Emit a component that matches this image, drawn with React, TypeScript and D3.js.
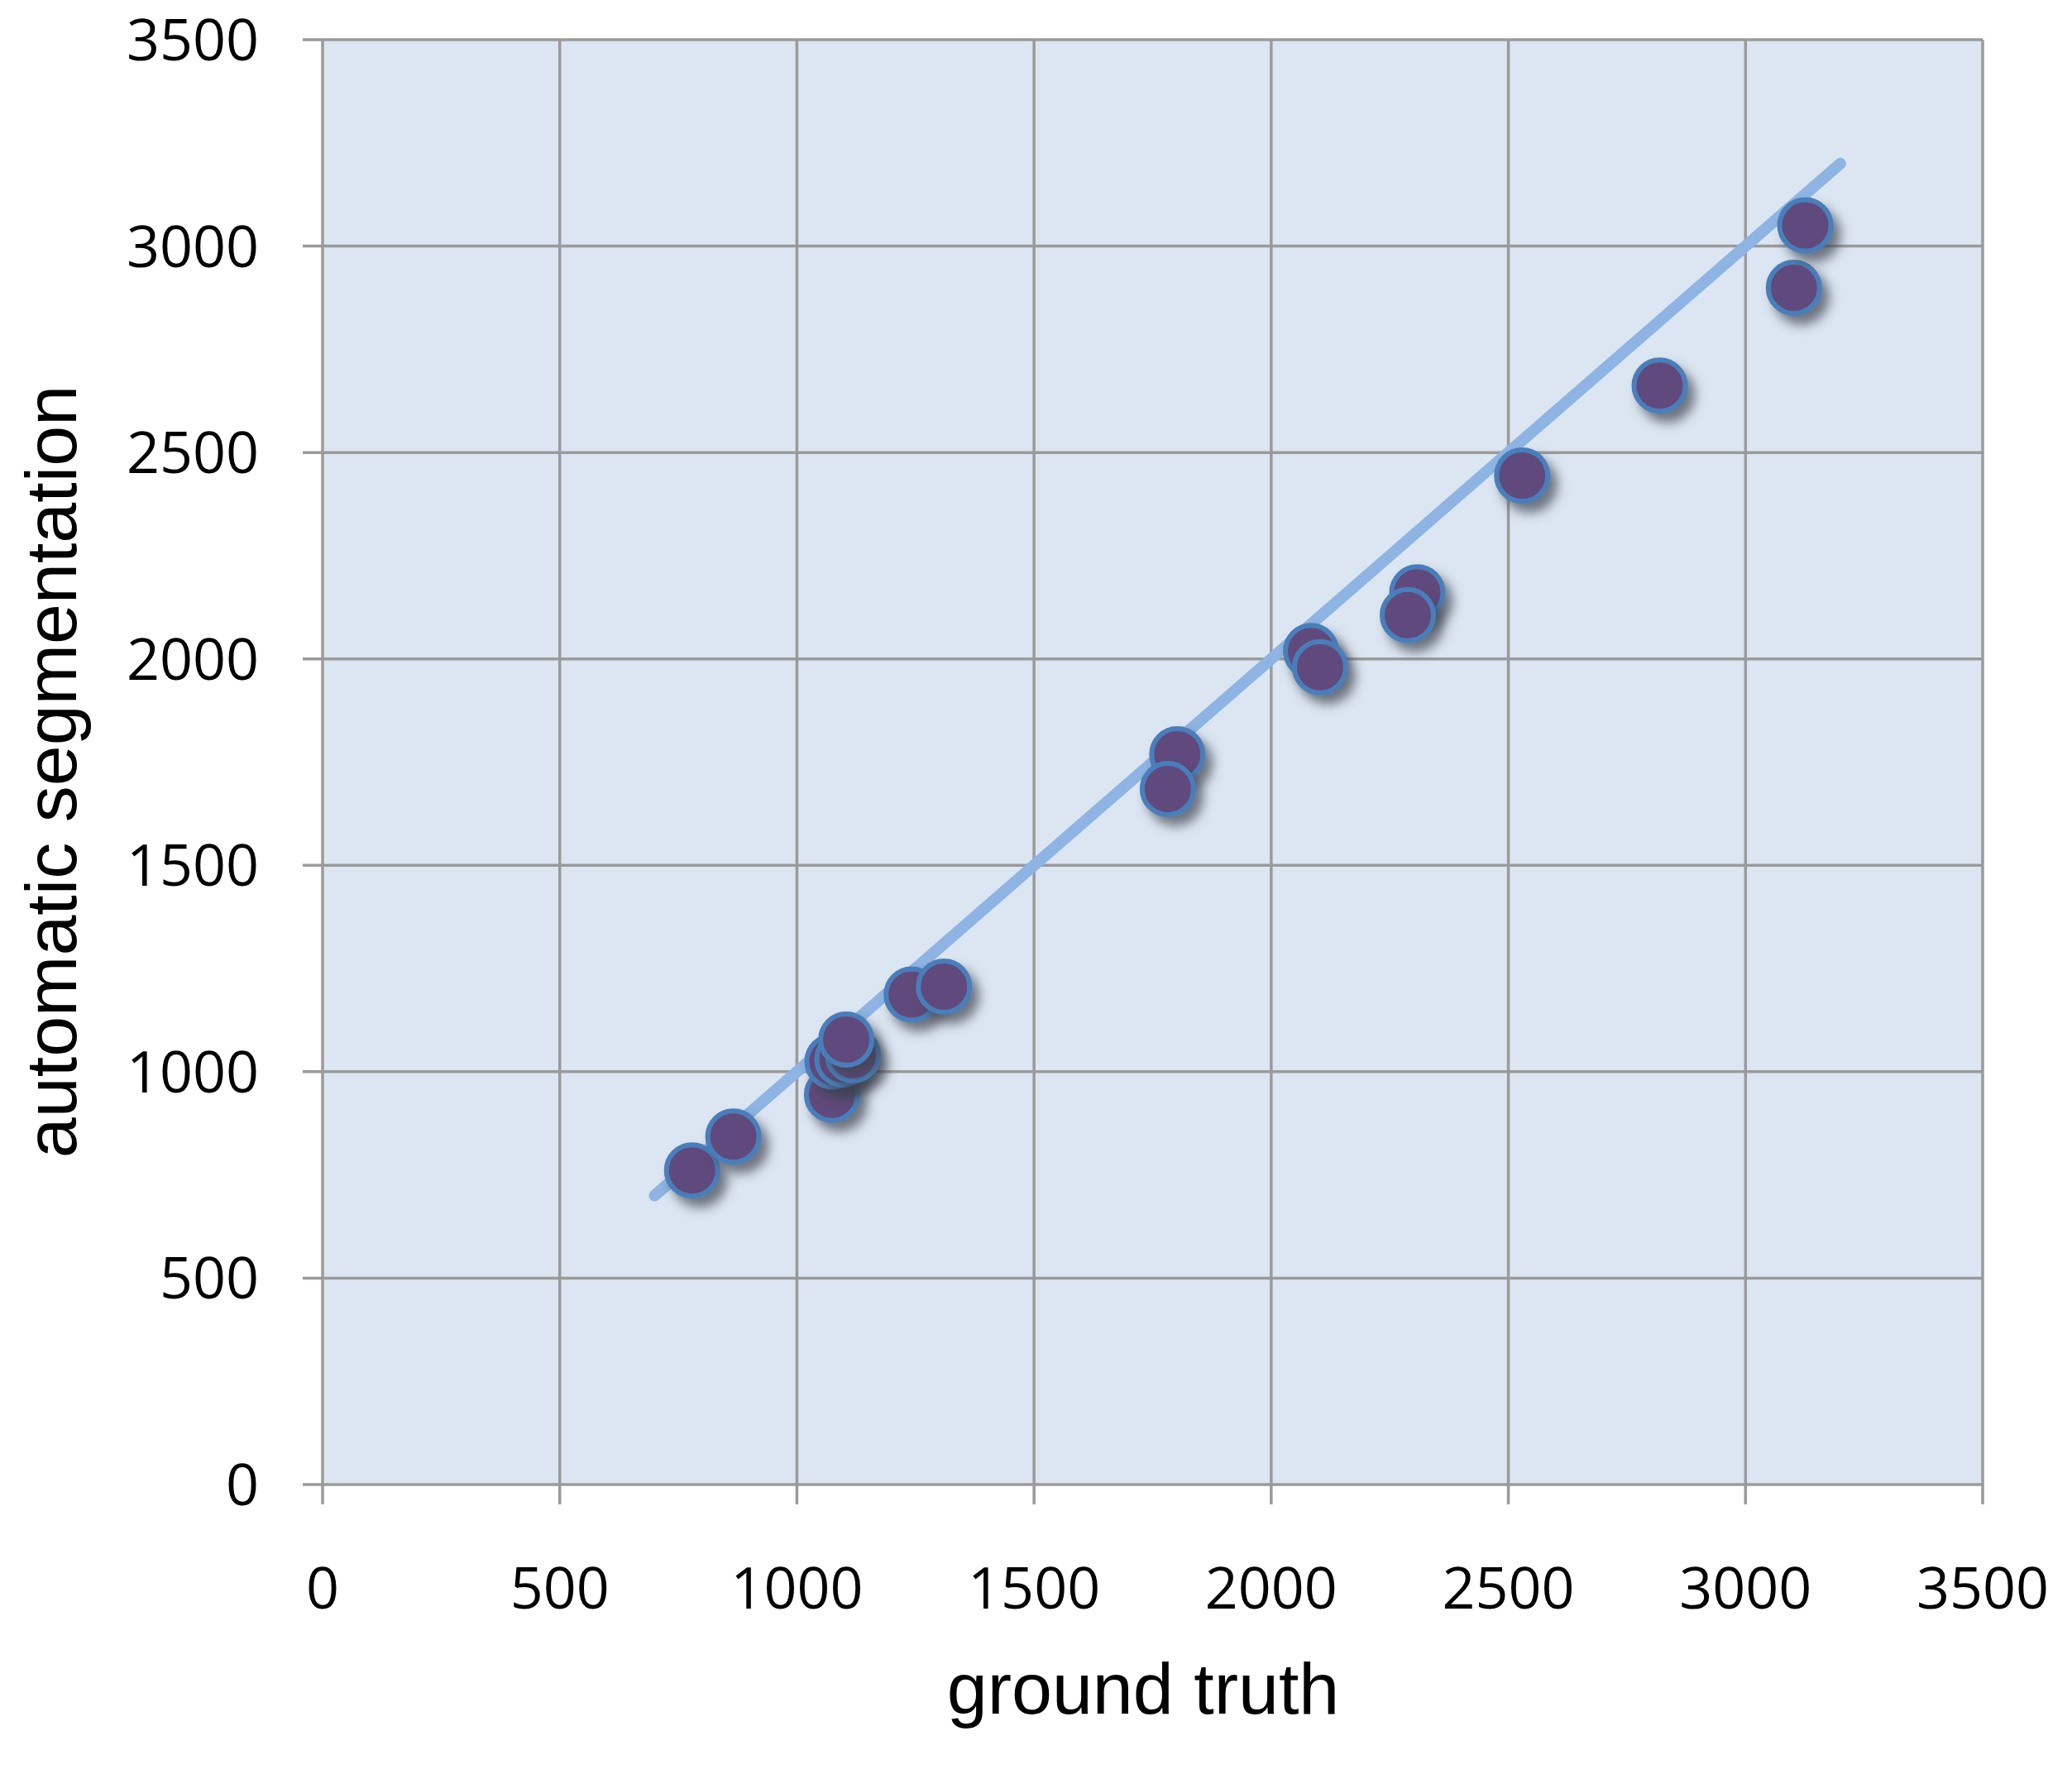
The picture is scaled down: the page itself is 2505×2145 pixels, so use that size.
import React from "react";
import * as d3 from "d3";

const groundTruth = [779, 866, 1074, 1075, 1096, 1118, 1104, 1242, 1310, 1802, 1782, 2084, 2103, 2308, 2288, 2529, 2819, 3102, 3126];
const automaticSeg = [761, 843, 944, 1025, 1030, 1040, 1078, 1187, 1206, 1769, 1685, 2019, 1980, 2161, 2106, 2444, 2662, 2899, 3050];
const fitLineX = [700, 3200];
const fitLineY = [700, 3200];
const xTicks = [0, 500, 1000, 1500, 2000, 2500, 3000, 3500];
const yTicks = [0, 500, 1000, 1500, 2000, 2500, 3000, 3500];
const xTitle = "ground truth";
const yTitle = "automatic segmentation";

const W = 2505;
const H = 2145;
const L = 390, R = 2397, T = 48, B = 1795;

export default function App() {
  const x = d3.scaleLinear().domain([0, 3500]).range([L, R]);
  const y = d3.scaleLinear().domain([0, 3500]).range([B, T]);
  const line = d3.line<number>().x((d) => x(fitLineX[d])).y((d) => y(fitLineY[d]));
  const grid = "#9a9a9a";
  const tickFont = "'Open Sans', 'Noto Sans', sans-serif";
  const titleFont = "'Liberation Sans', Arial, sans-serif";
  return (
    <svg width={W} height={H} style={{ position: "absolute", left: 0, top: 0, background: "#fff" }}>
      <defs>
        <filter id="sh" x="-50%" y="-50%" width="200%" height="200%">
          <feDropShadow dx="9" dy="11" stdDeviation="7" floodColor="#3a4350" floodOpacity="0.7" />
        </filter>
      </defs>
      <rect x={L} y={T} width={R - L} height={B - T} fill="#dce6f2" />
      {xTicks.map((t) => (
        <line key={"gx" + t} x1={x(t)} x2={x(t)} y1={T} y2={B + 24} stroke={grid} strokeWidth={3.5} />
      ))}
      {yTicks.map((t) => (
        <line key={"gy" + t} x1={L - 24} x2={R} y1={y(t)} y2={y(t)} stroke={grid} strokeWidth={3.5} />
      ))}
      {xTicks.map((t) => (
        <text key={"xl" + t} x={x(t)} y={1945} textAnchor="middle" fontFamily={tickFont} fontSize={70} fill="#000">
          {t}
        </text>
      ))}
      {yTicks.map((t) => (
        <text key={"yl" + t} x={313} y={y(t) + 25} textAnchor="end" fontFamily={tickFont} fontSize={70} fill="#000">
          {t}
        </text>
      ))}
      <path d={line([0, 1]) || ""} stroke="#8eb4e3" strokeWidth={14} strokeLinecap="round" fill="none" />
      {groundTruth.map((g, i) => (
        <circle key={"p" + i} cx={x(g)} cy={y(automaticSeg[i])} r={31} fill="#604a7b" stroke="#4a7ebb" strokeWidth={6} filter="url(#sh)" />
      ))}
      <text x={1382} y={2072} textAnchor="middle" fontFamily={titleFont} fontSize={88} fill="#000">
        {xTitle}
      </text>
      <text transform={`translate(92, 933) rotate(-90)`} textAnchor="middle" fontFamily={titleFont} fontSize={88} fill="#000">
        {yTitle}
      </text>
    </svg>
  );
}
